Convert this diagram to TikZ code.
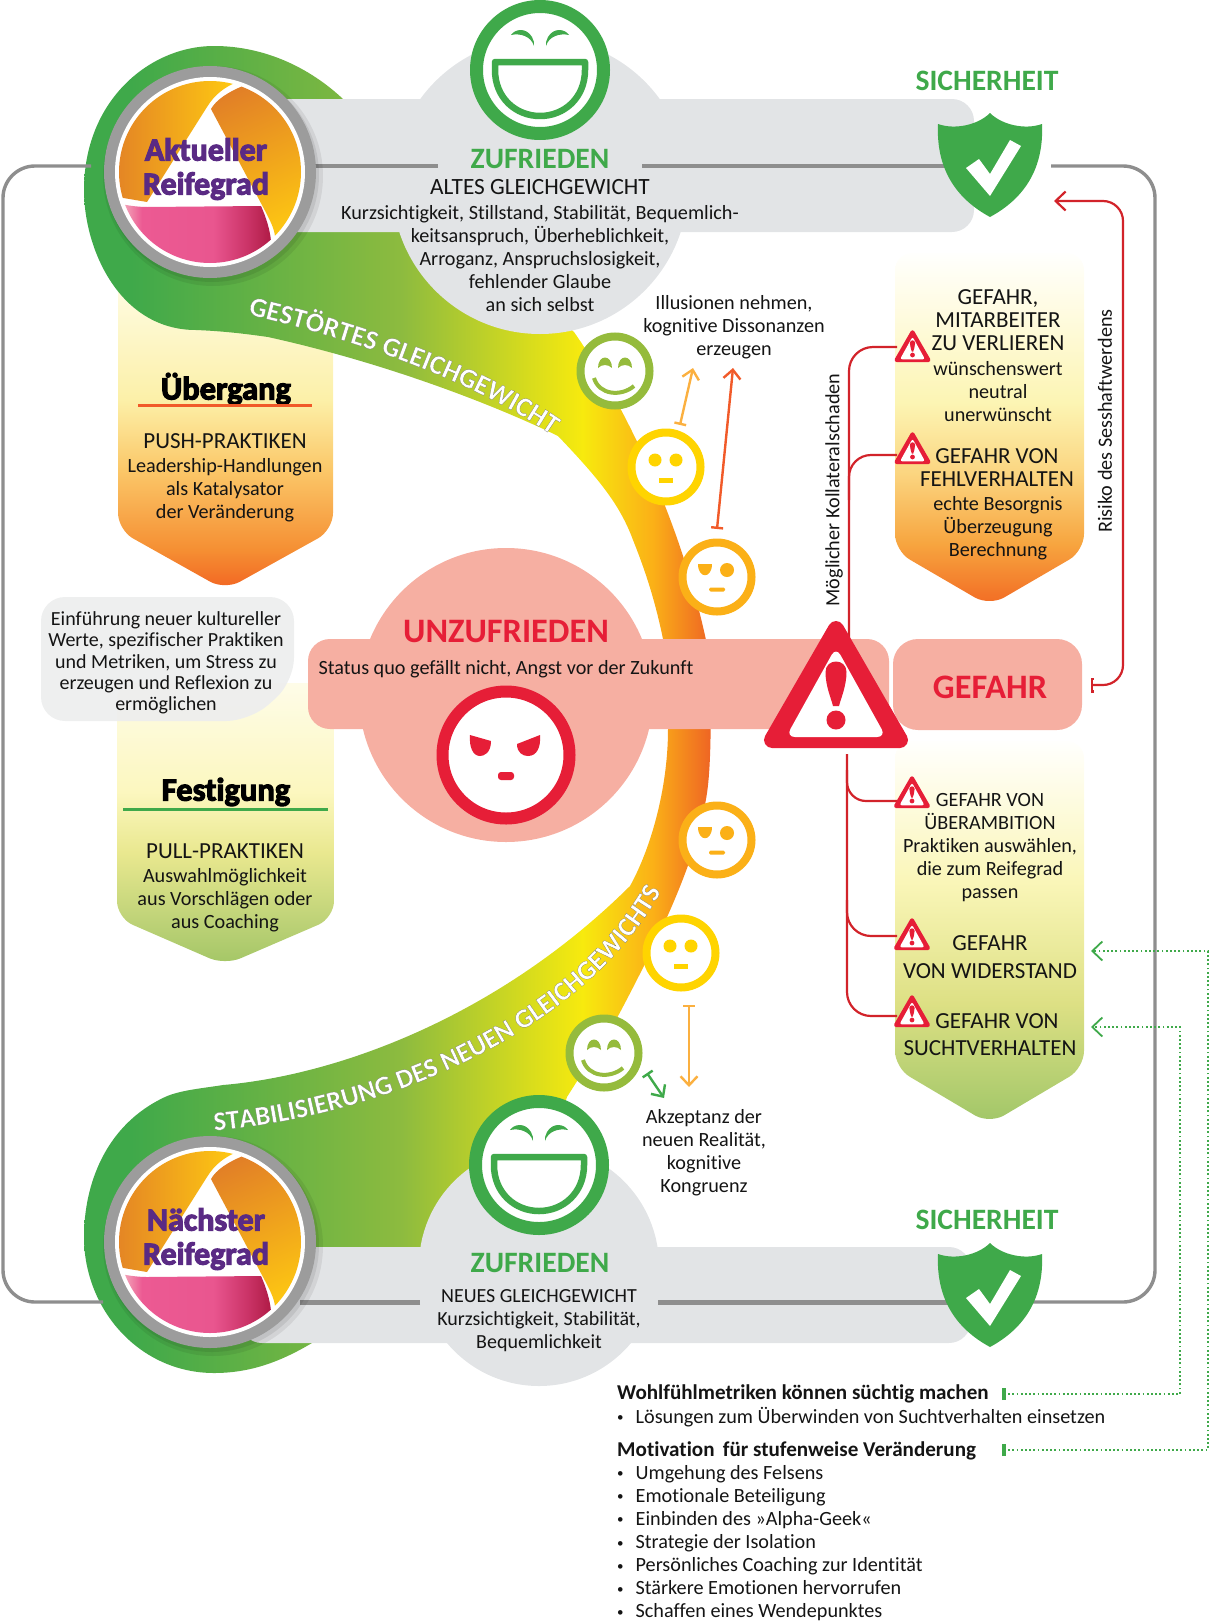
\documentclass[tikz,border=0pt]{standalone}
\usepackage{fontspec}
\setmainfont{Carlito}[Ligatures=NoCommon]
\newfontfamily\heavyfont[UprightFont=* Bold, FakeBold=3.5, Ligatures=NoCommon]{Carlito}
\newfontfamily\bandfam[UprightFont=* Bold, FakeBold=.6, Ligatures=NoCommon]{Carlito}
\usepackage{tikz}
\usetikzlibrary{arrows.meta, decorations.text, positioning}

\definecolor{gruen}{HTML}{3FA94A}
\definecolor{hellgrau}{HTML}{E2E4E6}
\definecolor{loopgrau}{HTML}{8E8E8E}
\definecolor{ringgrau}{HTML}{9C9C9C}
\definecolor{warnrot}{HTML}{E61E37}
\definecolor{linienrot}{HTML}{D2232A}
\definecolor{rosa}{HTML}{F6AFA2}
\definecolor{lila}{HTML}{5A2A84}
\definecolor{ringorange}{HTML}{E07B28}
\definecolor{ringgelb}{HTML}{FFCB11}
\definecolor{moosgruen}{HTML}{95BB3C}
\definecolor{facegelb}{HTML}{FFD400}
\definecolor{faceorange}{HTML}{FBB017}
\definecolor{pfeilorange}{HTML}{FBB040}
\definecolor{pfeilrot}{HTML}{F15A29}
\definecolor{boxgrau}{HTML}{EDEEEE}
\definecolor{swa}{HTML}{8DBB3F}
\definecolor{swb}{HTML}{F7EA0E}
\definecolor{swc}{HTML}{EE6324}
\definecolor{pka}{HTML}{F4B0BE}
\definecolor{pkb}{HTML}{EC5A93}
\definecolor{pkc}{HTML}{E9568F}
\definecolor{pkd}{HTML}{CB3468}
\definecolor{pke}{HTML}{AE1A44}
\definecolor{pua}{HTML}{F26A24}
\definecolor{pub}{HTML}{F58F33}
\definecolor{puc}{HTML}{FBC768}
\definecolor{pud}{HTML}{FCF0A8}
\definecolor{pue}{HTML}{FEFBE0}
\definecolor{pla}{HTML}{A3C666}
\definecolor{plb}{HTML}{BDD277}
\definecolor{plc}{HTML}{E9E88F}
\definecolor{pld}{HTML}{FCF7BF}
\definecolor{ple}{HTML}{FEFCE8}
\definecolor{rka}{HTML}{F26A23}
\definecolor{rkb}{HTML}{F7A53F}
\definecolor{rkc}{HTML}{FBD580}
\definecolor{rkd}{HTML}{FCF5B4}
\definecolor{rke}{HTML}{FFFCE6}
\definecolor{rkf}{HTML}{FFFFFD}
\definecolor{sua}{HTML}{A0C668}
\definecolor{sub}{HTML}{DDE084}
\definecolor{suc}{HTML}{FAF6B8}
\definecolor{sud}{HTML}{FFFEF4}

\pgfdeclarehorizontalshading{swooshshade}{100bp}{
    color(0bp)=(gruen); color(28.7bp)=(gruen); color(50.3bp)=(swa);
    color(64.7bp)=(swb); color(70.3bp)=(faceorange); color(75bp)=(swc); color(100bp)=(swc)}
\pgfdeclarehorizontalshading{pinkshade}{100bp}{
    color(0bp)=(pka); color(30bp)=(pka); color(35bp)=(pkb); color(52bp)=(pkc);
    color(60bp)=(pkd); color(66bp)=(pke); color(100bp)=(pke)}
\pgfdeclareverticalshading{pushshade}{100bp}{
    color(0bp)=(pua); color(25.8bp)=(pua); color(31.3bp)=(pub); color(43.7bp)=(puc);
    color(54.7bp)=(pud); color(72bp)=(pue); color(100bp)=(pue)}
\pgfdeclareverticalshading{pullshade}{100bp}{
    color(0bp)=(pla); color(25bp)=(pla); color(32.6bp)=(plb); color(44.9bp)=(plc);
    color(55.7bp)=(pld); color(75bp)=(ple); color(100bp)=(ple)}
\pgfdeclareverticalshading{riskoshade}{100bp}{
    color(0bp)=(rka); color(25bp)=(rka); color(33.8bp)=(rkb); color(43.8bp)=(rkc);
    color(53.9bp)=(rkd); color(68.2bp)=(rke); color(75bp)=(rkf); color(100bp)=(rkf)}
\pgfdeclareverticalshading{suchtshade}{100bp}{
    color(0bp)=(sua); color(25bp)=(sua); color(40.7bp)=(sub); color(56.6bp)=(suc);
    color(72.5bp)=(sud); color(75bp)=(rkf); color(100bp)=(rkf)}

\newcommand{\bandfont}{\color{white}\special{pdf:code 0.4 0.4 0.4 RG}\bandfam\fontsize{27.5}{27.5}\selectfont}
\newcommand{\bandfontb}{\color{white}\special{pdf:code 0.4 0.4 0.4 RG}\bandfam\fontsize{27}{27}\selectfont}
\newcommand{\listdot}{{\fontsize{13}{13}\selectfont\raisebox{1.5pt}{•}}\kern 12pt}

\tikzset{
    bodytext/.style={font=\fontsize{20.2}{23}\selectfont, align=center, inner sep=0pt, text=black!92},
    capstext/.style={font=\fontsize{23}{23}\selectfont, align=center, inner sep=0pt, text=black!92},
    greenhead/.style={font=\bfseries\fontsize{29.6}{30}\selectfont, text=gruen, inner sep=0pt},
    redhead/.style={font=\bfseries\fontsize{34.3}{35}\selectfont, text=warnrot, inner sep=0pt},
    ringtext/.style={font=\heavyfont\fontsize{32}{34}\selectfont, align=center, text=lila, inner sep=0pt},
    panelhead/.style={font=\heavyfont\fontsize{32.5}{33}\selectfont, inner sep=0pt},
    listtext/.style={font=\fontsize{20.2}{23.1}\selectfont, align=left, inner sep=0pt, text=black!92},
    listhead/.style={font=\bfseries\fontsize{21.1}{23}\selectfont, align=left, inner sep=0pt, text=black!92},
    graybar/.style={fill=hellgrau, rounded corners=22pt},
    loopline/.style={draw=loopgrau, line width=3.4pt, rounded corners=32pt},
    redline/.style={draw=linienrot, line width=2.2pt},
    dotline/.style={draw=gruen, line width=1.8pt, dash pattern=on 1.8pt off 2.4pt},
    hintline/.style={line width=2.4pt, {Bar[width=12pt, length=2pt]}-{Straight Barb[length=9pt, width=17pt]}},
    pics/bigface/.style={code={
        \draw[gruen, line width=13pt, fill=white] (0,0) circle[radius=63.5pt];
        \draw[gruen, line width=6.5pt, fill=white, line join=round] (-45,-8) -- (45,-8) -- (45,0)
            .. controls (45,28) and (24,46) .. (0,46) .. controls (-24,46) and (-45,28) .. (-45,0) -- cycle;
        \fill[gruen] (-29,-35) .. controls (-25,-41) and (-14,-43) .. (-8,-33) .. controls (-6,-30) and (-6,-27) .. (-6,-24)
            .. controls (-9,-34) and (-20,-37) .. (-29,-35) -- cycle;
        \fill[gruen] (29,-35) .. controls (25,-41) and (14,-43) .. (8,-33) .. controls (6,-30) and (6,-27) .. (6,-24)
            .. controls (9,-34) and (20,-37) .. (29,-35) -- cycle;
    }},
    pics/angryface/.style={code={
        \draw[warnrot, line width=12pt, fill=white] (0,0) circle[radius=63.5pt];
        \fill[warnrot] (-36,-20) -- (-15,-14) .. controls (-15,-2) and (-22,1) .. (-26,1) .. controls (-33,1) and (-37,-8) .. (-36,-20) -- cycle;
        \fill[warnrot] (34,-20) -- (11,-11) .. controls (11,-2) and (17,1) .. (22,1) .. controls (31,1) and (35,-8) .. (34,-20) -- cycle;
        \fill[warnrot, rounded corners=3pt] (-8,17) rectangle (8,25);
    }},
    pics/neutralface/.style={code={
        \draw[#1, line width=8pt, fill=white] (0,0) circle[radius=34.5pt];
        \fill[#1] (-11,-7) circle[radius=6.5pt] (10,-7) circle[radius=6.5pt];
        \fill[#1] (-7,11) rectangle (7,15.5);
    }},
    pics/sourface/.style={code={
        \draw[#1, line width=8pt, fill=white] (0,0) circle[radius=34.5pt];
        \fill[#1] (-19,-13) -- (-5,-13) .. controls (-5,2) and (-19,2) .. (-19,-13) -- cycle;
        \fill[#1] (10,-7) circle[radius=7pt];
        \fill[#1, rounded corners=1.5pt] (-8,10.5) rectangle (8,14.5);
    }},
    pics/happyface/.style={code={
        \draw[#1, line width=8pt, fill=white] (0,0) circle[radius=34.5pt];
        \fill[#1] (-17,-3) .. controls (-17,-17) and (-3,-17) .. (-3,-3) .. controls (-7,-7) and (-13,-7) .. (-17,-3) -- cycle;
        \fill[#1] (3,-3) .. controls (3,-17) and (17,-17) .. (17,-3) .. controls (13,-7) and (7,-7) .. (3,-3) -- cycle;
        \draw[#1, line width=4pt] (-21,7) .. controls (-16,24) and (6,26) .. (19,15);
    }},
    pics/warnsign/.style={code={
        \begin{scope}[x=#1pt, y=-#1pt]
            \fill[warnrot, draw=warnrot, line width=#1*16pt, line join=round] (0,-119) -- (-64,-8) -- (64,-8) -- cycle;
            \fill[white, rounded corners=#1*9pt] (0,-101) -- (-50,-11) -- (50,-11) -- cycle;
            \fill[warnrot] (-10.5,-76) .. controls (-10.5,-90) and (10.5,-90) .. (10.5,-76) .. controls (10.5,-62) and (5,-50) .. (3,-42)
                -- (-3,-42) .. controls (-5,-50) and (-10.5,-62) .. (-10.5,-76) -- cycle;
            \fill[warnrot] (0,-28) circle[radius=#1*9.5pt];
        \end{scope}
    }},
    pics/shield/.style={code={
        \fill[gruen] (0,0) .. controls (-12,12) and (-35,17) .. (-52,11) .. controls (-54,55) and (-35,85) .. (0,104)
            .. controls (35,85) and (54,55) .. (52,11) .. controls (35,17) and (12,12) .. (0,0) -- cycle;
        \fill[white] (-24,55) -- (-11,46) -- (0,61) -- (20,27) -- (31,33) -- (0,83) -- cycle;
    }},
    pics/reifering/.style={code={
        \fill[black, opacity=.07] (3,4) circle[radius=110pt];
        \fill[black, opacity=.08] (2,3) circle[radius=107pt];
        \fill[ringgrau] (0,0) circle[radius=106pt];
        \fill[white] (0,0) circle[radius=95pt];
        \begin{scope}
            \clip (0,0) circle[radius=91pt];
            \shade[left color=ringorange, right color=ringgelb] (-110,22) -- (-63,30) -- (-3,-65) .. controls (5,-78) and (15,-85) .. (27,-90)
                -- (27,-110) -- (-110,-110) -- cycle;
            \shade[top color=ringorange, bottom color=ringgelb, shading angle=25] (33,-86) .. controls (18,-80) and (6,-72) .. (1,-63)
                -- (53,35) .. controls (60,48) and (64,56) .. (65,64) -- (110,80) -- (110,-110) -- (33,-110) -- cycle;
            \shade[shading=pinkshade] (-110,30) -- (-89,32) .. controls (-80,34) and (-70,35) .. (-63,35) -- (51,34)
                .. controls (56,45) and (60,58) .. (61,69) -- (100,110) -- (-110,110) -- cycle;
        \end{scope}
    }},
}

\begin{document}
\begin{tikzpicture}[x=1pt, y=-1pt]
    \useasboundingbox (0,0) rectangle (1210,1622);

    \shade[shading=pushshade, rounded corners=17pt] (118,270) -- (118,530) -- (225,590) -- (333,530) -- (333,270) -- cycle;
    \shade[shading=pullshade, rounded corners=17pt] (117,683) -- (117,918) -- (225,965) -- (334,918) -- (334,683) -- cycle;
    \shade[shading=riskoshade, rounded corners=17pt] (895,253) -- (895,551) -- (989.5,606) -- (1084,551) -- (1084,253) -- cycle;
    \shade[shading=suchtshade, rounded corners=17pt] (895,741) -- (895,1068) -- (989.5,1124) -- (1084,1068) -- (1084,741) -- cycle;

    \shade[shading=swooshshade] (84,190) .. controls (84,100) and (150,46) .. (214,46)
        .. controls (265,46) and (310,68) .. (343,99) -- (420,130) -- (560,320) -- (574,332)
        .. controls (625,405) and (680,520) .. (706,640) .. controls (712,680) and (712,760) .. (707,793)
        .. controls (700,840) and (680,900) .. (617,1018) -- (567,1097) -- (500,1300) -- (312,1343)
        .. controls (280,1362) and (250,1373) .. (214,1373) .. controls (140,1373) and (84,1310) .. (84,1237)
        .. controls (84,1185) and (105,1125) .. (165,1097) .. controls (180,1090) and (205,1088) .. (223,1085)
        .. controls (340,1075) and (500,1015) .. (630,886) .. controls (650,850) and (668,790) .. (668,729)
        -- (663,639) .. controls (655,600) and (645,570) .. (633,540) .. controls (620,505) and (600,480) .. (558,436)
        .. controls (505,410) and (395,365) .. (268,337) .. controls (240,333) and (220,331) .. (196,330)
        .. controls (120,330) and (84,250) .. (84,190) -- cycle;

    \path[decorate, decoration={text along path, text align=center, text={|\bandfont|GESTÖRTES GLEICHGEWICHT}}]
        (246,314) .. controls (320,331) and (460,371) .. (553,436);
    \path[decorate, decoration={text along path, text align=center, text={|\bandfontb|STABILISIERUNG DES NEUEN GLEICHGEWICHTS}}]
        (208,1131) .. controls (390,1117) and (590,1027) .. (664,886);

    \fill[graybar] (240,99) rectangle (974,232);
    \fill[hellgrau] (540,186) circle[radius=148pt];
    \fill[graybar] (240,1247) rectangle (971,1343);
    \fill[hellgrau] (539,1266) circle[radius=120pt];

    \fill[rosa] (506,695) circle[radius=147pt];
    \fill[rosa, rounded corners=22pt] (308,639) rectangle (889,729);
    \fill[rosa, rounded corners=25pt] (893,639) rectangle (1082,730);

    \fill[boxgrau, opacity=.93, rounded corners=24pt] (41,597) -- (294,597) -- (294,682) -- (250,721) -- (41,721) -- cycle;

    \coordinate (looptop) at (91,166);
    \coordinate (loopleft) at (3,734);
    \coordinate (loopbottom) at (103,1302);
    \coordinate (ringtopout) at (300,166);
    \coordinate (zufriedenl) at (438,166);
    \coordinate (zufriedenr) at (642,166);
    \coordinate (shieldtop) at (960,166);
    \coordinate (shieldtopr) at (1051,166);
    \coordinate (loopright) at (1155,734);
    \coordinate (shieldbot) at (1030,1302);
    \coordinate (shieldbotl) at (950,1302);
    \coordinate (neuesr) at (658,1302);
    \coordinate (neuesl) at (420,1302);
    \coordinate (ringbotout) at (300,1302);
    \draw[loopline] (looptop) -| (loopleft) |- (loopbottom);
    \draw[loopline, line width=4.5pt] (ringtopout) -- (zufriedenl);
    \draw[loopline, line width=4.5pt] (zufriedenr) -- (shieldtop);
    \draw[loopline] (shieldtopr) -| (loopright) |- (shieldbot);
    \draw[loopline, line width=5pt] (shieldbotl) -- (neuesr);
    \draw[loopline, line width=5pt] (neuesl) -- (ringbotout);

    \coordinate (kolbase) at (849,642);
    \coordinate (kolmid) at (849,500);
    \coordinate (warneinsl) at (897,347);
    \coordinate (warnzweil) at (897,455);
    \coordinate (lowbase) at (847,754);
    \coordinate (lowa) at (847,770);
    \coordinate (lowb) at (847,900);
    \coordinate (warndreil) at (897,801);
    \coordinate (warnvierl) at (897,936);
    \coordinate (warnfuenfl) at (897,1016);
    \draw[redline, rounded corners=24pt] (kolbase) |- (warneinsl);
    \draw[redline, rounded corners=22pt] (kolmid) |- (warnzweil);
    \draw[redline, rounded corners=24pt] (lowbase) |- (warnfuenfl);
    \draw[redline, rounded corners=19pt] (lowa) |- (warndreil);
    \draw[redline, rounded corners=24pt] (lowb) |- (warnvierl);

    \coordinate (riskbar) at (1091,685);
    \coordinate (riskturn) at (1123,201);
    \coordinate (shieldtip) at (1054,201);
    \draw[redline, rounded corners=20pt, {Bar[width=15pt, length=2.5pt]}-{Straight Barb[length=10pt, width=19pt]}] (riskbar) -| (riskturn) -- (shieldtip);

    \coordinate (dotonefrom) at (1004,1394);
    \coordinate (dotoneturn) at (1180,1027);
    \coordinate (dotoneto) at (1091,1027);
    \coordinate (dottwofrom) at (1004,1450);
    \coordinate (dottwoturn) at (1208,951);
    \coordinate (dottwoto) at (1091,951);
    \draw[dotline, -{Straight Barb[length=10pt, width=19pt]}] (dotonefrom) -| (dotoneturn) -- (dotoneto);
    \draw[dotline, -{Straight Barb[length=10pt, width=19pt]}] (dottwofrom) -| (dottwoturn) -- (dottwoto);
    \draw[gruen, line width=3.5pt] ([yshift=-6pt]dotonefrom) -- ([yshift=6pt]dotonefrom);
    \draw[gruen, line width=3.5pt] ([yshift=-6pt]dottwofrom) -- ([yshift=6pt]dottwofrom);

    \coordinate (hintafrom) at (680,425);
    \coordinate (hintato) at (693,368);
    \coordinate (hintbfrom) at (717,529);
    \coordinate (hintbto) at (733,368);
    \coordinate (hintcfrom) at (689,1005);
    \coordinate (hintcto) at (689,1087);
    \coordinate (hintdfrom) at (647,1073);
    \coordinate (hintdto) at (664,1098);
    \draw[pfeilorange, hintline] (hintafrom) -- (hintato);
    \draw[pfeilrot, hintline] (hintbfrom) -- (hintbto);
    \draw[pfeilorange, hintline] (hintcfrom) -- (hintcto);
    \draw[gruen, hintline] (hintdfrom) -- (hintdto);

    \pic at (210,172) {reifering};
    \pic at (210,1242) {reifering};
    \pic at (540,70) {bigface};
    \pic at (539,1165) {bigface};
    \pic at (506,755) {angryface};
    \pic at (615,371) {happyface=moosgruen};
    \pic at (666,467) {neutralface=facegelb};
    \pic at (717,577) {sourface=faceorange};
    \pic at (717,840) {sourface=faceorange};
    \pic at (681,953) {neutralface=facegelb};
    \pic at (604,1053) {happyface=moosgruen};
    \pic at (990,113) {shield};
    \pic at (990,1243) {shield};
    \pic at (836,748) {warnsign=1};
    \pic at (912.5,362) {warnsign=.25};
    \pic at (912.5,464) {warnsign=.25};
    \pic at (912,808) {warnsign=.25};
    \pic at (912,950) {warnsign=.25};
    \pic at (912,1027) {warnsign=.25};

    \node[ringtext] (aktuell) at (206,169) {Aktueller\\Reifegrad};
    \node[ringtext] (naechst) at (206,1239) {Nächster\\Reifegrad};

    \node[greenhead] (zufriedenalt) at (540,159) {ZUFRIEDEN};
    \node[capstext, font=\fontsize{23.3}{23}\selectfont] (altesgg) at (540,187) {ALTES GLEICHGEWICHT};
    \node[bodytext] (altestext) at (540,258.5) {Kurzsichtigkeit, Stillstand, Stabilität, Bequemlich-\\keitsanspruch, Überheblichkeit,\\Arroganz, Anspruchslosigkeit,\\fehlender Glaube\\an sich selbst};
    \node[greenhead] (sicheroben) at (987,81) {SICHERHEIT};

    \node[panelhead] (uebergang) at (226,389) {Übergang};
    \coordinate (uebl) at (138,405);
    \coordinate (uebr) at (312,405);
    \draw[pfeilrot, line width=3pt] (uebl) -- (uebr);
    \node[capstext] (pushhead) at (225,441.5) {PUSH-PRAKTIKEN};
    \node[bodytext] (pushtext) at (225,490.5) {Leadership-Handlungen\\als Katalysator\\der Veränderung};

    \node[bodytext, font=\fontsize{20}{21.3}\selectfont] (einfuehrung) at (166,663) {Einführung neuer kultureller\\Werte, spezifischer Praktiken\\und Metriken, um Stress zu\\erzeugen und Reflexion zu\\ermöglichen};

    \node[panelhead] (festigung) at (226,792) {Festigung};
    \coordinate (fesl) at (123,809);
    \coordinate (fesr) at (328,809);
    \draw[gruen, line width=3pt] (fesl) -- (fesr);
    \node[capstext] (pullhead) at (225,851) {PULL-PRAKTIKEN};
    \node[bodytext] (pulltext) at (225,900) {Auswahlmöglichkeit\\aus Vorschlägen oder\\aus Coaching};

    \node[redhead] (unzufrieden) at (506,631) {UNZUFRIEDEN};
    \node[bodytext] (statusquo) at (506,669) {Status quo gefällt nicht, Angst vor der Zukunft};
    \node[redhead] (gefahr) at (990,687) {GEFAHR};

    \node[bodytext] (illusion) at (734,327) {Illusionen nehmen,\\kognitive Dissonanzen\\erzeugen};
    \node[bodytext] (akzeptanz) at (704,1153) {Akzeptanz der\\neuen Realität,\\kognitive\\Kongruenz};

    \node[bodytext, rotate=90] (kollateral) at (834,490) {Möglicher Kollateralschaden};
    \node[bodytext, rotate=90] (sesshaft) at (1105,421) {Risiko des Sesshaftwerdens};

    \node[capstext] (verlieren) at (998,320.5) {GEFAHR,\\MITARBEITER\\ZU VERLIEREN};
    \node[bodytext] (wuensche) at (998,391.5) {wünschenswert\\neutral\\unerwünscht};
    \node[capstext] (fehlverhalten) at (997,467.5) {GEFAHR VON\\FEHLVERHALTEN};
    \node[bodytext] (besorgnis) at (998,528.5) {echte Besorgnis\\Überzeugung\\Berechnung};

    \node[bodytext] (ueberambition) at (990,848) {GEFAHR VON\\ÜBERAMBITION\\Praktiken auswählen,\\die zum Reifegrad\\passen};
    \node[capstext, font=\fontsize{23}{28}\selectfont] (widerstand) at (990,957) {GEFAHR\\VON WIDERSTAND};
    \node[capstext] (suchtvon) at (997,1021) {GEFAHR VON};
    \node[capstext] (suchtverh) at (990,1048) {SUCHTVERHALTEN};

    \node[greenhead] (zufriedenneu) at (540,1263) {ZUFRIEDEN};
    \node[bodytext, font=\fontsize{20}{23}\selectfont] (neuestext) at (539,1321) {NEUES GLEICHGEWICHT\\Kurzsichtigkeit, Stabilität,\\Bequemlichkeit};
    \node[greenhead] (sicherunten) at (987,1220) {SICHERHEIT};

    \node[listhead, anchor=west] (wohlfuehl) at (617,1394) {Wohlfühlmetriken können süchtig machen};
    \node[listtext, anchor=west] (loesungen) at (617,1417) {\listdot Lösungen zum Überwinden von Suchtverhalten einsetzen};
    \node[listhead, anchor=west] (motivation) at (617,1451) {Motivation\, für stufenweise Veränderung};
    \node[listtext, anchor=north west] (stufen) at (617,1465) {\listdot Umgehung des Felsens\\\listdot Emotionale Beteiligung\\\listdot Einbinden des »Alpha-Geek«\\\listdot Strategie der Isolation\\\listdot Persönliches Coaching zur Identität\\\listdot Stärkere Emotionen hervorrufen\\\listdot Schaffen eines Wendepunktes};
\end{tikzpicture}
\end{document}
